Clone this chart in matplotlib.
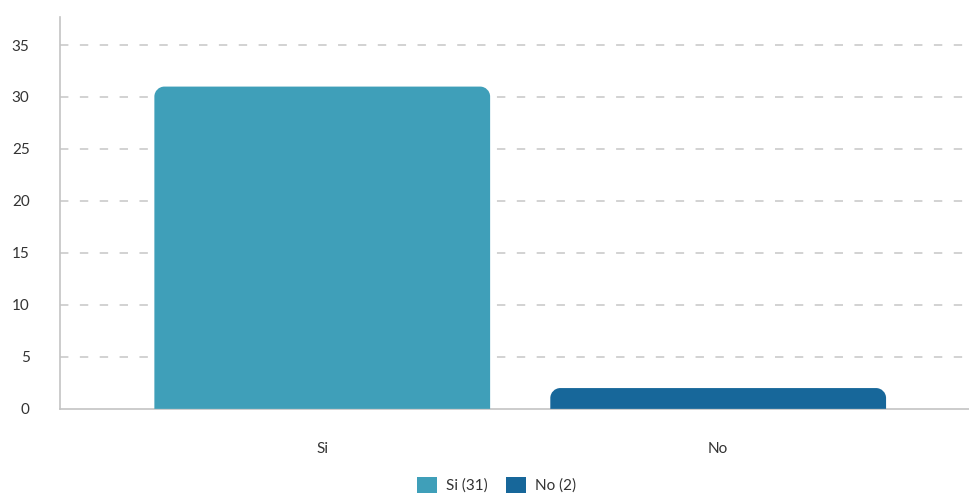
import matplotlib
matplotlib.use("Agg")
import matplotlib.pyplot as plt
from matplotlib.patches import PathPatch, Patch
from matplotlib.path import Path

categories = ["Si", "No"]
counts = [31, 2]
colors = ["#3f9fb9", "#17679a"]
yticks = [0, 5, 10, 15, 20, 25, 30, 35]

plt.rcParams["font.family"] = ["Lato", "DejaVu Sans"]

fig = plt.figure(figsize=(9.7, 4.98), dpi=100)
ax = fig.add_axes([0.062, 0.179, 0.938, 0.787])
ax.set_xlim(-0.662, 1.636)
ax.set_ylim(0, 37.7)


def rounded_top(x0, w, h, rx, ry):
    # rectangle from the baseline up to h, top corners rounded with bezier arcs
    k = 0.5523
    x1 = x0 + w
    verts = [
        (x0, 0), (x0, h - ry),
        (x0, h - ry + k * ry), (x0 + rx - k * rx, h), (x0 + rx, h),
        (x1 - rx, h),
        (x1 - rx + k * rx, h), (x1, h - ry + k * ry), (x1, h - ry),
        (x1, 0), (x0, 0),
    ]
    codes = [Path.MOVETO, Path.LINETO,
             Path.CURVE4, Path.CURVE4, Path.CURVE4,
             Path.LINETO,
             Path.CURVE4, Path.CURVE4, Path.CURVE4,
             Path.LINETO, Path.CLOSEPOLY]
    return Path(verts, codes)


# corner radius in pixels converted to data units on each axis
fig.canvas.draw()
px_per_x = ax.transData.transform((1, 0))[0] - ax.transData.transform((0, 0))[0]
px_per_y = ax.transData.transform((0, 1))[1] - ax.transData.transform((0, 0))[1]
radius = 10
bar_width = 0.848
for i, (v, c) in enumerate(zip(counts, colors)):
    path = rounded_top(i - bar_width / 2, bar_width, v,
                       radius / px_per_x, min(radius / px_per_y, v))
    ax.add_patch(PathPatch(path, facecolor=c, edgecolor="none", zorder=3))

ax.set_yticks(yticks)
ax.set_xticks(range(len(categories)))
ax.set_xticklabels(categories)
ax.tick_params(axis="both", length=0, labelsize=11, colors="#333333")
ax.tick_params(axis="x", pad=24)
ax.tick_params(axis="y", pad=22)

for y in yticks[1:]:
    ax.axhline(y, color="#c6c6c6", lw=1.1, linestyle=(0, (5.5, 7.5)), zorder=1)

for side in ["top", "right"]:
    ax.spines[side].set_visible(False)
for side in ["left", "bottom"]:
    ax.spines[side].set_color("#c4c4c4")
    ax.spines[side].set_linewidth(1.2)

handles = [Patch(facecolor=c, edgecolor="none") for c in colors]
labels = [f"{n} ({v})" for n, v in zip(categories, counts)]
fig.legend(handles, labels, loc="center", bbox_to_anchor=(0.512, 0.026),
           ncol=2, frameon=False, fontsize=11, handlelength=1.3,
           handleheight=1.3, handletextpad=0.6, columnspacing=1.2,
           labelcolor="#333333")

fig.savefig("out.png", dpi=100)
